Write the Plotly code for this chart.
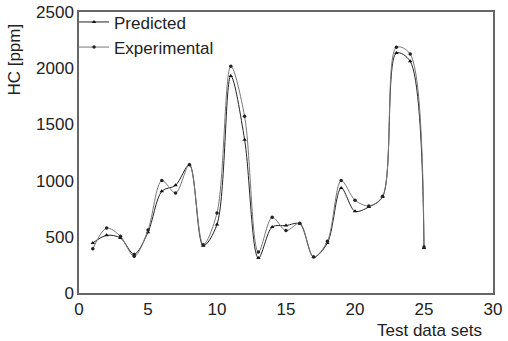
import plotly.graph_objects as go

x_sets = list(range(1, 26))
predicted = [445, 513, 490, 345, 540, 905, 958, 1140, 420, 610, 1930, 1364, 311, 587, 600, 615, 320, 445, 934, 727, 765, 855, 2135, 2061, 400]
experimental = [394, 578, 505, 326, 560, 1000, 890, 1142, 430, 712, 2017, 1572, 365, 673, 555, 620, 320, 460, 1000, 825, 775, 860, 2186, 2126, 410]

x_ticks = [0, 5, 10, 15, 20, 25, 30]
y_ticks = [0, 500, 1000, 1500, 2000, 2500]

FONT = "Liberation Sans, Arial, sans-serif"

fig = go.Figure()
fig.add_trace(go.Scatter(
    x=x_sets, y=predicted, name="Predicted", mode="lines+markers",
    line=dict(color="#222222", width=1, shape="spline", smoothing=0.9),
    marker=dict(symbol="triangle-up", size=4, color="#111111"),
))
fig.add_trace(go.Scatter(
    x=x_sets, y=experimental, name="Experimental", mode="lines+markers",
    line=dict(color="#777777", width=1, shape="spline", smoothing=0.9),
    marker=dict(symbol="circle", size=3.5, color="#222222"),
))

axis_common = dict(
    showgrid=False, zeroline=False, showline=True, linecolor="#666666",
    linewidth=1.5, mirror=True, ticks="",
    tickfont=dict(family=FONT, size=17, color="#222222"),
)
fig.update_xaxes(range=[0, 30], tickvals=x_ticks, **axis_common)
fig.update_yaxes(range=[0, 2500], tickvals=y_ticks, **axis_common)

fig.update_layout(
    width=508, height=341,
    margin=dict(l=79, r=15, t=12, b=48, autoexpand=False),
    paper_bgcolor="white", plot_bgcolor="white",
    font=dict(family=FONT, size=17, color="#222222"),
    showlegend=True,
    legend=dict(
        x=-0.012, y=1.027, xanchor="left", yanchor="top",
        bgcolor="rgba(0,0,0,0)", borderwidth=0,
        font=dict(family=FONT, size=17, color="#222222"),
        itemwidth=30, tracegroupgap=0,
    ),
    annotations=[
        dict(text="Test data sets", xref="paper", yref="paper",
             x=0.978, y=-0.135, xanchor="right", yanchor="middle",
             showarrow=False, font=dict(family=FONT, size=17, color="#222222")),
        dict(text="HC [ppm]", xref="paper", yref="paper",
             x=-0.155, y=0.83, xanchor="center", yanchor="middle", textangle=-90,
             showarrow=False, font=dict(family=FONT, size=17, color="#222222")),
    ],
)

fig.write_html("out.html")
